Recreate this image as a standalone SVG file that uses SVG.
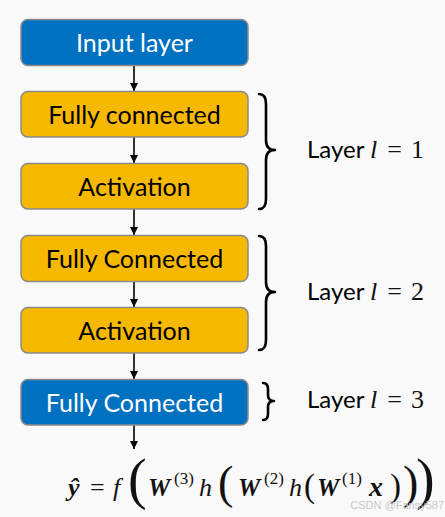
<svg xmlns="http://www.w3.org/2000/svg" width="445" height="517" viewBox="0 0 445 517">
<defs>
<style>
.box{stroke:#8a8a8a;stroke-width:1.5}
.blue{fill:#0070C0}
.gold{fill:#F6B900}
.lbl{font-family:Lato,"Liberation Sans",sans-serif;font-size:25px;text-anchor:middle}
.w{fill:#ffffff}
.k{fill:#000000}
.conn line{stroke:#000;stroke-width:1.6}
.brace{fill:none;stroke:#000;stroke-width:2.6;stroke-linecap:round;stroke-linejoin:round}
.side{font-family:Lato,"Liberation Sans",sans-serif;font-size:24px;fill:#000}
.m{font-family:"Liberation Serif","DejaVu Serif",serif;fill:#111}
.bi{font-weight:bold;font-style:italic}
.it{font-style:italic}
</style>
<marker id="ah" viewBox="0 0 10 10" refX="10" refY="5" markerWidth="8" markerHeight="8" markerUnits="userSpaceOnUse" orient="auto">
<path d="M0,0 L10,5 L0,10 Z" fill="#000"/>
</marker>
</defs>
<rect width="445" height="517" fill="#F9F9F9"/>

<g id="connectors" class="conn">
<line x1="134" y1="66" x2="134" y2="91" marker-end="url(#ah)"/>
<line x1="134" y1="137" x2="134" y2="163" marker-end="url(#ah)"/>
<line x1="134" y1="209" x2="134" y2="235" marker-end="url(#ah)"/>
<line x1="134" y1="282" x2="134" y2="307" marker-end="url(#ah)"/>
<line x1="134" y1="353" x2="134" y2="379" marker-end="url(#ah)"/>
<line x1="134" y1="425" x2="134" y2="449" marker-end="url(#ah)"/>
</g>

<g id="input-layer">
<rect class="box blue" x="21" y="19.5" width="227" height="46" rx="7"/>
<text class="lbl w" x="134.5" y="52">Input layer</text>
</g>
<g id="fc1">
<rect class="box gold" x="21" y="91.5" width="227" height="45.5" rx="7"/>
<text class="lbl k" x="134.5" y="123.5">Fully connected</text>
</g>
<g id="act1">
<rect class="box gold" x="21" y="163.5" width="227" height="45.5" rx="7"/>
<text class="lbl k" x="134.5" y="195.5">Activation</text>
</g>
<g id="fc2">
<rect class="box gold" x="21" y="235.5" width="227" height="46" rx="7"/>
<text class="lbl k" x="134.5" y="267.5">Fully Connected</text>
</g>
<g id="act2">
<rect class="box gold" x="21" y="307.5" width="227" height="45.5" rx="7"/>
<text class="lbl k" x="134.5" y="339.5">Activation</text>
</g>
<g id="fc3">
<rect class="box blue" x="21" y="379.5" width="227" height="45.5" rx="7"/>
<text class="lbl w" x="134.5" y="411.5">Fully Connected</text>
</g>

<g id="layer1">
<path class="brace" d="M259,94 Q266,94 266,104 L266,140 Q266,150 275,150 Q266,150 266,160 L266,199 Q266,209 259,209"/>
<text class="side" x="307" y="158">Layer <tspan class="m it" font-size="26">l</tspan><tspan class="m" font-size="26" dx="10">=</tspan><tspan class="m" font-size="26" dx="9">1</tspan></text>
</g>
<g id="layer2">
<path class="brace" d="M259,236 Q266,236 266,246 L266,282 Q266,292 275,292 Q266,292 266,302 L266,340 Q266,350 259,350"/>
<text class="side" x="307" y="300">Layer <tspan class="m it" font-size="26">l</tspan><tspan class="m" font-size="26" dx="10">=</tspan><tspan class="m" font-size="26" dx="9">2</tspan></text>
</g>
<g id="layer3">
<path class="brace" d="M263,383 Q268,383 268,389 L268,395 Q268,401 274,401 Q268,401 268,407 L268,414 Q268,420 263,420"/>
<text class="side" x="307" y="408">Layer <tspan class="m it" font-size="26">l</tspan><tspan class="m" font-size="26" dx="10">=</tspan><tspan class="m" font-size="26" dx="9">3</tspan></text>
</g>

<g id="formula">
<text class="m" font-size="26"><tspan class="bi" x="68" y="496">ŷ</tspan><tspan x="90" y="496">=</tspan><tspan class="it" x="113" y="496">f</tspan><tspan x="128" y="498" font-size="56">(</tspan><tspan class="bi" x="148" y="496" font-size="25">W</tspan><tspan x="174" y="484" font-size="17">(3)</tspan><tspan class="it" x="199" y="496">h</tspan><tspan x="218" y="498" font-size="46">(</tspan><tspan class="bi" x="238" y="496" font-size="25">W</tspan><tspan x="264" y="484" font-size="17">(2)</tspan><tspan class="it" x="289" y="496">h</tspan><tspan x="304" y="497" font-size="33">(</tspan><tspan class="bi" x="317" y="496" font-size="25">W</tspan><tspan x="342" y="484" font-size="17">(1)</tspan><tspan class="bi" x="369" y="496" font-size="28">x</tspan><tspan x="390" y="497" font-size="33">)</tspan><tspan x="403" y="498" font-size="46">)</tspan><tspan x="416" y="498" font-size="56">)</tspan></text>
</g>
<text x="444" y="509" font-family="Liberation Sans,sans-serif" font-size="11" fill="#c8c8c8" text-anchor="end">CSDN @Fansy587</text>
</svg>
